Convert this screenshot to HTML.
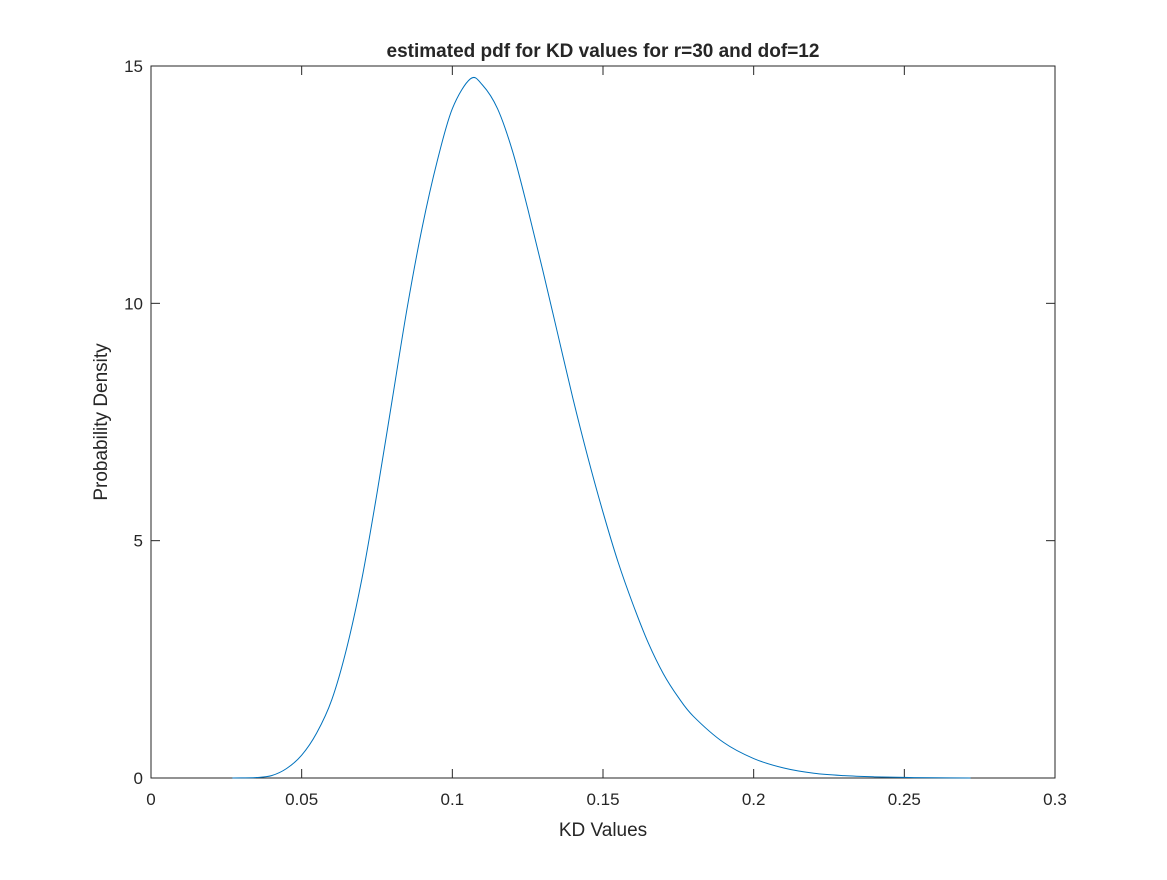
<!DOCTYPE html>
<html><head><meta charset="utf-8"><style>
html,body{margin:0;padding:0;background:#fff;}
svg text{font-family:"Liberation Sans",Arial,sans-serif;fill:#262626;}
</style></head><body>
<svg id="chart" width="1167" height="875" xmlns="http://www.w3.org/2000/svg">
<rect width="1167" height="875" fill="#fff"/>
<g id="axes"></g>
<path id="curve" fill="none" stroke="#0072bd" stroke-width="1"/>
<text x="603" y="57" text-anchor="middle" font-size="19" font-weight="bold">estimated pdf for KD values for r=30 and dof=12</text>
<text x="603" y="836" text-anchor="middle" font-size="19">KD Values</text>
<text transform="translate(107,422) rotate(-90)" text-anchor="middle" font-size="19">Probability Density</text>
</svg>
<script>
const xTicks=[0,0.05,0.1,0.15,0.2,0.25,0.3];
const xTickLabels=["0","0.05","0.1","0.15","0.2","0.25","0.3"];
const yTicks=[0,5,10,15];
const yTickLabels=["0","5","10","15"];
const kdValues=[0.027,0.03,0.035,0.04,0.045,0.05,0.055,0.06,0.065,0.07,0.075,0.08,0.085,0.09,0.095,0.1,0.106,0.11,0.115,0.12,0.125,0.13,0.135,0.14,0.145,0.15,0.155,0.16,0.165,0.17,0.175,0.18,0.19,0.2,0.21,0.22,0.23,0.24,0.25,0.26,0.272];
const density=[0,0.003,0.01,0.05,0.2,0.48,0.95,1.65,2.75,4.2,6.0,7.95,9.9,11.6,13.0,14.1,14.73,14.6,14.1,13.2,12.0,10.7,9.35,8.0,6.75,5.6,4.55,3.65,2.85,2.2,1.7,1.3,0.75,0.41,0.21,0.1,0.05,0.025,0.012,0.005,0];
const L=151,R=1055,T=66,B=778;
const sx=v=>L+(v-0)/(0.3-0)*(R-L);
const sy=v=>B-(v-0)/(15-0)*(B-T);
const NS="http://www.w3.org/2000/svg";
const ax=document.getElementById('axes');
function mk(tag,attrs){const e=document.createElementNS(NS,tag);for(const k in attrs)e.setAttribute(k,attrs[k]);ax.appendChild(e);return e;}
const box=mk('rect',{x:L,y:T,width:R-L,height:B-T,fill:'none',stroke:'#262626','stroke-width':1});


xTicks.forEach((t,i)=>{
  const x=sx(t);
  const a=mk('line',{x1:x,x2:x,y1:B,y2:B-9,stroke:'#262626'});
  
  
  const b=mk('line',{x1:x,x2:x,y1:T,y2:T+9,stroke:'#262626'});
  
  
  const tx=mk('text',{x:x,y:B+27,'text-anchor':'middle','font-size':17});
  tx.textContent=xTickLabels[i];
  
  
});
yTicks.forEach((t,i)=>{
  const y=sy(t);
  const a=mk('line',{x1:L,x2:L+9,y1:y,y2:y,stroke:'#262626'});
  
  
  const b=mk('line',{x1:R,x2:R-9,y1:y,y2:y,stroke:'#262626'});
  
  
  const tx=mk('text',{x:L-8,y:y+6,'text-anchor':'end','font-size':17});
  tx.textContent=yTickLabels[i];
  
  
});
const pts=kdValues.map((v,i)=>[sx(v),sy(density[i])]);
let d='M'+pts[0][0]+','+pts[0][1];
for(let i=0;i<pts.length-1;i++){
  const p0=pts[i-1]||pts[i],p1=pts[i],p2=pts[i+1],p3=pts[i+2]||p2;
  const c1=[p1[0]+(p2[0]-p0[0])/6,p1[1]+(p2[1]-p0[1])/6];
  const c2=[p2[0]-(p3[0]-p1[0])/6,p2[1]-(p3[1]-p1[1])/6];
  d+=' C'+c1+' '+c2+' '+p2;
}
document.getElementById('curve').setAttribute('d',d);
</script>
</body></html>
